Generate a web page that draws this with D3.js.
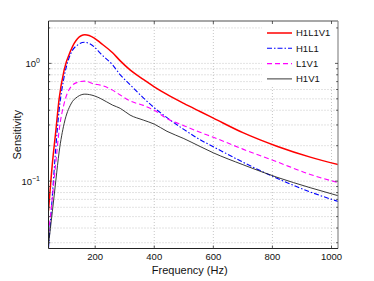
<!DOCTYPE html>
<html>
<head>
<meta charset="utf-8">
<script src="https://cdn.jsdelivr.net/npm/d3@7"></script>
<style>
  body { margin: 0; background: #fff; }
  svg { display: block; font-family: "Liberation Sans", Arial, sans-serif; }
  .grid line { stroke: #b8b8b8; stroke-width: 0.8; stroke-dasharray: 1,2; }
  .tick-label { font-size: 9.5px; fill: #111; }
  .label { font-size: 11px; fill: #111; }
</style>
</head>
<body>
<svg id="chart" width="374" height="281"></svg>
<script>
// frequency samples (Hz)
const freqs = [42, 55, 67, 78, 95, 118, 140, 165, 197, 217, 259, 285, 318, 363, 400, 443, 500, 555, 600, 700, 815, 928, 1024];

const h1l1v1 = [0.056, 0.14, 0.27, 0.50, 0.88, 1.30, 1.62, 1.75, 1.64, 1.50, 1.23, 1.05, 0.88, 0.73, 0.633, 0.545, 0.457, 0.39, 0.343, 0.258, 0.198, 0.16, 0.138];
const h1l1   = [0.027, 0.075, 0.196, 0.40, 0.77, 1.22, 1.43, 1.51, 1.38, 1.22, 0.97, 0.80, 0.66, 0.51, 0.42, 0.346, 0.275, 0.225, 0.196, 0.145, 0.106, 0.081, 0.067];
const l1v1   = [0.036, 0.072, 0.145, 0.27, 0.457, 0.633, 0.69, 0.707, 0.667, 0.654, 0.593, 0.538, 0.48, 0.44, 0.40, 0.34, 0.296, 0.26, 0.236, 0.187, 0.146, 0.114, 0.097];
const h1v1   = [0.029, 0.055, 0.102, 0.177, 0.309, 0.452, 0.52, 0.548, 0.53, 0.505, 0.442, 0.415, 0.364, 0.33, 0.305, 0.265, 0.23, 0.197, 0.174, 0.138, 0.108, 0.088, 0.075];

const seriesNames = ['H1L1V1', 'H1L1', 'L1V1', 'H1V1'];
const xTicks = [200, 400, 600, 800, 1000];

const svg = d3.select('#chart');

const pLeft = 48.5, pRight = 338, pTop = 21, pBottom = 248.5;

const x = d3.scaleLinear().domain([42, 1022]).range([pLeft, pRight]);
const y = d3.scaleLog().domain([0.0268, 2.29]).range([pBottom, pTop]);

// horizontal grid at every log tick inside the domain
const yGrid = [];
[0.01, 0.1, 1].forEach(dec => {
  for (let k = 1; k <= 9; k++) {
    const v = dec * k;
    if (v >= y.domain()[0] && v <= y.domain()[1]) yGrid.push(v);
  }
});

const grid = svg.append('g').attr('class', 'grid');
grid.selectAll('.hg').data(yGrid).enter().append('line')
  .attr('x1', pLeft).attr('x2', pRight)
  .attr('y1', d => y(d)).attr('y2', d => y(d));
grid.selectAll('.vg').data(xTicks).enter().append('line')
  .attr('x1', d => x(d)).attr('x2', d => x(d))
  .attr('y1', pTop).attr('y2', pBottom);

// curves
const series = [
  { name: seriesNames[0], values: h1l1v1, color: '#ff0000', width: 1.5, dash: null },
  { name: seriesNames[1], values: h1l1,   color: '#0000ff', width: 1.1, dash: '5,2,1.5,2' },
  { name: seriesNames[2], values: l1v1,   color: '#ff00ff', width: 1.1, dash: '5,3' },
  { name: seriesNames[3], values: h1v1,   color: '#222222', width: 0.9, dash: null }
];

svg.append('clipPath').attr('id', 'clip')
  .append('rect').attr('x', pLeft).attr('y', pTop).attr('width', pRight - pLeft).attr('height', pBottom - pTop);

const line = d3.line()
  .x((d, i) => x(freqs[i]))
  .y(d => y(d))
  .curve(d3.curveMonotoneX);

svg.append('g').attr('clip-path', 'url(#clip)')
  .selectAll('path').data(series).enter().append('path')
  .attr('d', d => line(d.values))
  .attr('fill', 'none')
  .attr('stroke', d => d.color)
  .attr('stroke-width', d => d.width)
  .attr('stroke-dasharray', d => d.dash);

// legend (white background, no frame)
const legend = svg.append('g');
legend.append('rect')
  .attr('x', 262).attr('y', 24).attr('width', 75).attr('height', 63)
  .attr('fill', '#fff');
const items = legend.selectAll('.item').data(series).enter().append('g')
  .attr('transform', (d, i) => `translate(0, ${33 + i * 15.3})`);
items.append('line')
  .attr('x1', 267).attr('x2', 292)
  .attr('stroke', d => d.color)
  .attr('stroke-width', d => d.width)
  .attr('stroke-dasharray', d => d.dash);
items.append('text')
  .attr('class', 'tick-label')
  .attr('x', 296).attr('dy', '0.35em')
  .text(d => d.name);

// box
svg.append('line').attr('x1', pLeft).attr('x2', pRight).attr('y1', pTop).attr('y2', pTop)
  .attr('stroke', '#8a8a8a').attr('stroke-width', 1.5);
svg.append('line').attr('x1', pRight).attr('x2', pRight).attr('y1', pTop).attr('y2', pBottom)
  .attr('stroke', '#8a8a8a').attr('stroke-width', 1.2);
svg.append('line').attr('x1', pLeft).attr('x2', pLeft).attr('y1', pTop).attr('y2', pBottom)
  .attr('stroke', '#222').attr('stroke-width', 1);
svg.append('line').attr('x1', pLeft).attr('x2', pRight).attr('y1', pBottom).attr('y2', pBottom)
  .attr('stroke', '#222').attr('stroke-width', 1);

// inward ticks
const ticks = svg.append('g').attr('stroke', '#333').attr('stroke-width', 0.8);
xTicks.forEach(t => {
  ticks.append('line').attr('x1', x(t)).attr('x2', x(t)).attr('y1', pBottom).attr('y2', pBottom - 3);
  ticks.append('line').attr('x1', x(t)).attr('x2', x(t)).attr('y1', pTop).attr('y2', pTop + 3);
});
yGrid.forEach(v => {
  const major = Math.abs(Math.log10(v) - Math.round(Math.log10(v))) < 1e-9;
  const len = major ? 3 : 1.8;
  ticks.append('line').attr('x1', pLeft).attr('x2', pLeft + len).attr('y1', y(v)).attr('y2', y(v));
  ticks.append('line').attr('x1', pRight).attr('x2', pRight - len).attr('y1', y(v)).attr('y2', y(v));
});

// x tick labels
svg.selectAll('.xl').data(xTicks).enter().append('text')
  .attr('class', 'tick-label')
  .attr('x', d => x(d)).attr('y', 260)
  .attr('text-anchor', 'middle')
  .text(d => d);

// y tick labels 10^0, 10^-1
const yMajors = [1, 0.1];
const yl = svg.selectAll('.yl').data(yMajors).enter().append('text')
  .attr('class', 'tick-label')
  .attr('x', 40).attr('y', d => y(d) + 3.5)
  .attr('text-anchor', 'end');
yl.append('tspan').text('10');
yl.append('tspan').attr('dy', -4).attr('font-size', '7px').text(d => d === 1 ? '0' : '\u22121');

// axis labels
svg.append('text').attr('class', 'label')
  .attr('x', x(520)).attr('y', 274)
  .attr('text-anchor', 'middle')
  .text('Frequency (Hz)');
svg.append('text').attr('class', 'label')
  .attr('transform', `translate(21, ${(pTop + pBottom) / 2}) rotate(-90)`)
  .attr('text-anchor', 'middle')
  .text('Sensitivity');
</script>
</body>
</html>
